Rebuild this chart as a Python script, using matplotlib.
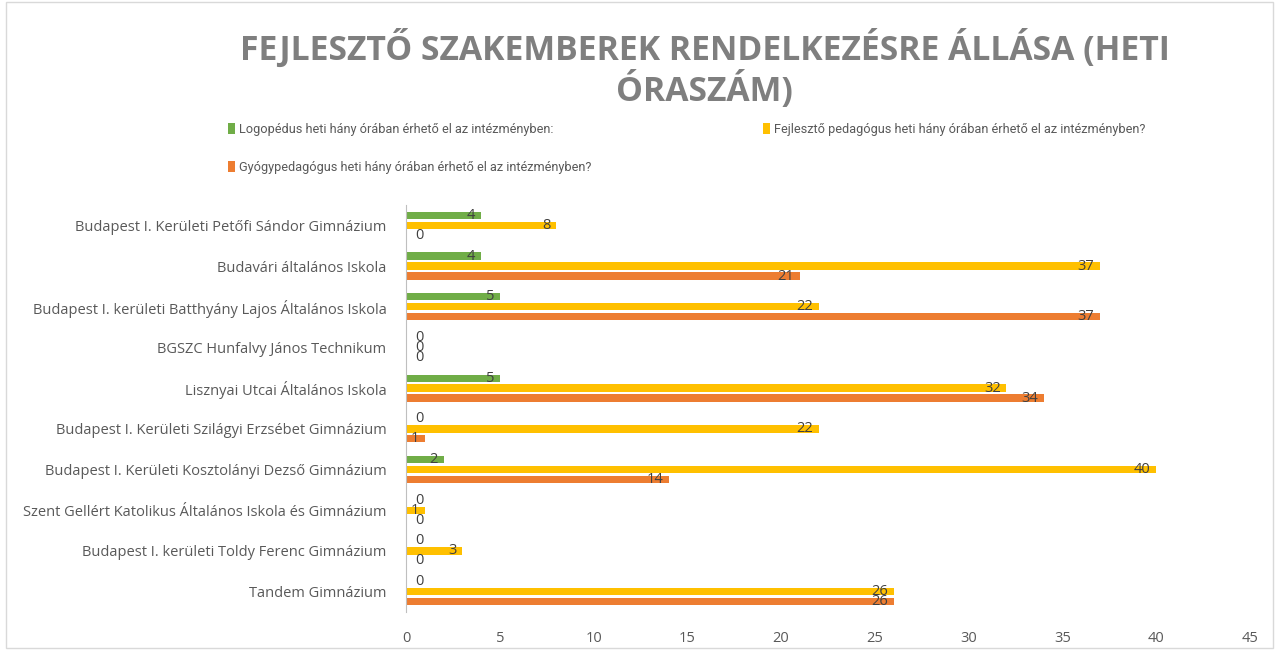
import numpy as np
import matplotlib.pyplot as plt
from matplotlib.patches import Rectangle

plt.rcParams['font.family'] = ['Open Sans', 'DejaVu Sans']

schools = [
    'Budapest I. Kerületi Petőfi Sándor Gimnázium',
    'Budavári általános Iskola',
    'Budapest I. kerületi Batthyány Lajos Általános Iskola',
    'BGSZC Hunfalvy János Technikum',
    'Lisznyai Utcai Általános Iskola',
    'Budapest I. Kerületi Szilágyi Erzsébet Gimnázium',
    'Budapest I. Kerületi Kosztolányi Dezső Gimnázium',
    'Szent Gellért Katolikus Általános Iskola és Gimnázium',
    'Budapest I. kerületi Toldy Ferenc Gimnázium',
    'Tandem Gimnázium',
]
logopedus = [4, 4, 5, 0, 5, 0, 2, 0, 0, 0]
fejleszto = [8, 37, 22, 0, 32, 22, 40, 1, 3, 26]
gyogy = [0, 21, 37, 0, 34, 1, 14, 0, 0, 26]

series = [
    ('Logopédus heti hány órában érhető el az intézményben:', logopedus, '#70ad47'),
    ('Fejlesztő pedagógus heti hány órában érhető el az intézményben?', fejleszto, '#ffc000'),
    ('Gyógypedagógus heti hány órában érhető el az intézményben?', gyogy, '#ed7d31'),
]

fig = plt.figure(figsize=(12.79, 6.5), dpi=100)
ax = fig.add_axes([406 / 1279, 1 - 612 / 650, 844 / 1279, 407 / 650])

y = np.arange(len(schools))
offsets = [-0.245, 0, 0.245]
handles = []
for (name, vals, col), off in zip(series, offsets):
    b = ax.barh(y + off, vals, height=0.18, color=col, label=name)
    handles.append(b)
    for yi, v in zip(y + off, vals):
        if v > 0:
            ax.annotate(str(v), (v, yi), xytext=(-4, 0), textcoords='offset points',
                        ha='right', va='center', fontsize=10.5, color='#404040')
        else:
            ax.annotate(str(v), (0, yi), xytext=(7, 0), textcoords='offset points',
                        ha='left', va='center', fontsize=10.5, color='#404040')

ax.set_xlim(0, 45)
ax.set_ylim(len(schools) - 0.5, -0.5)
ax.set_xticks(range(0, 46, 5))
ax.set_yticks(y)
ax.set_yticklabels(schools)
ax.tick_params(axis='both', length=0, labelsize=10.5, colors='#595959')
ax.tick_params(axis='x', pad=14)
ax.tick_params(axis='y', pad=14)
for s in ['top', 'right', 'bottom']:
    ax.spines[s].set_visible(False)
ax.spines['left'].set_color('#bfbfbf')

fig.text(0.551, 0.955, 'FEJLESZTŐ SZAKEMBEREK RENDELKEZÉSRE ÁLLÁSA (HETI\nÓRASZÁM)',
         ha='center', va='top', fontsize=24.3, fontweight='bold', color='#7f7f7f',
         linespacing=1.1)

# two rows: Logopédus, Fejlesztő / Gyógypedagógus
leg_font = {'family': ['Roboto', 'DejaVu Sans'], 'size': 9.2}
h1, h2, h3 = handles
leg1 = fig.legend([h1, h3], [series[0][0], series[2][0]],
                  loc='upper left', bbox_to_anchor=(223 / 1279, 1 - 118 / 650),
                  frameon=False, prop=leg_font,
                  labelcolor='#595959', handlelength=0.5, handleheight=0.9,
                  handletextpad=0.35, labelspacing=1.95, borderaxespad=0)
leg2 = fig.legend([h2], [series[1][0]],
                  loc='upper left', bbox_to_anchor=(758 / 1279, 1 - 118 / 650),
                  frameon=False, prop=leg_font,
                  labelcolor='#595959', handlelength=0.5, handleheight=0.9,
                  handletextpad=0.35, borderaxespad=0)

fig.patches.append(Rectangle((0.005, 0.003), 0.99, 0.994, transform=fig.transFigure,
                             fill=False, edgecolor='#d9d9d9', linewidth=1))

fig.savefig('out.png', dpi=100)
